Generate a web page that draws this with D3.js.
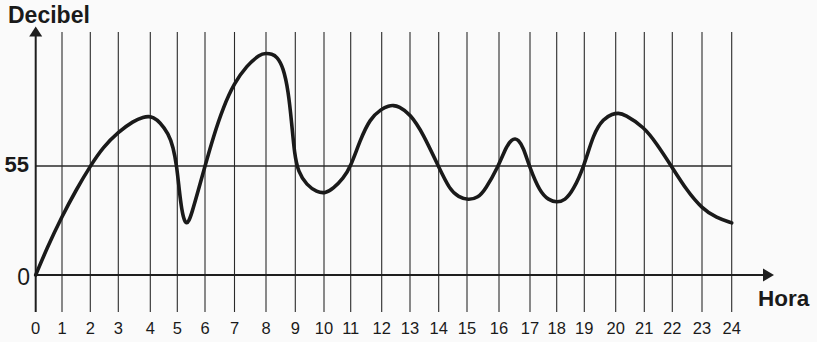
<!DOCTYPE html>
<html><head><meta charset="utf-8">
<script src="https://cdn.jsdelivr.net/npm/d3@7"></script>
<style>
html,body{margin:0;padding:0;background:#fafafa;}
svg{display:block;font-family:"Liberation Sans",Arial,sans-serif;}
</style></head>
<body>
<svg id="c" width="817" height="342"></svg>
<script>
const hours = [0,0.42,0.98,1.52,2,2.46,3,3.47,3.8,3.95,4.1,4.36,4.67,4.85,4.98,5.07,5.16,5.26,5.34,5.42,5.52,5.76,6,6.28,6.62,6.99,7.39,7.8,8,8.2,8.37,8.59,8.76,8.88,8.97,9.1,9.4,9.75,10.04,10.35,10.72,11,11.3,11.62,12,12.25,12.41,12.6,13,13.46,13.99,14.4,14.7,15.04,15.35,15.56,15.98,16.25,16.42,16.52,16.62,16.78,16.98,17.37,17.7,18,18.3,18.6,18.99,19.29,19.61,19.9,20.09,20.3,21,21.44,21.98,22.48,23,23.49,24];
const decibels = [0,13.3,29.1,43.5,55,64.6,72.1,77.7,79.8,80,79.6,77.2,71.3,64.6,54.9,42.8,32.7,27,26,27.3,31,42.8,54.9,69.6,84.7,96.8,105.7,111.3,111.9,111.5,110.3,104.8,93.1,76.3,61.2,52,45.3,41.9,41.1,43.6,48.7,54.7,67.9,78.9,83.9,85.4,85.6,85.1,81.4,71.3,54.7,42.8,39.4,37.7,39.1,42.8,54.7,65.4,68.4,68.8,68.2,64.6,54.7,41.9,37.8,36.6,37.6,42.8,54.7,71.3,78.9,81.3,81.7,81.2,74.6,66.3,54.7,42.8,33.5,28.8,26.3];
const xTicks = d3.range(0,25);
const yTicks = [0,55];
const xTitle = "Hora";
const yTitle = "Decibel";

const svg = d3.select("#c");
// hand-drawn grid: hour lines are not evenly spaced in the original
const x = d3.scaleLinear().domain(xTicks)
  .range([35.7,62,90.3,118.3,150.3,177.3,205,234.5,266,295.3,324,350.7,381.7,410,438.7,467,499,530,556.7,584.3,615.7,644.3,672.3,702,731.7]);
const y = d3.scaleLinear().domain([0,55]).range([275,166]);
const gridTop = 32, gridBottom = 312;

// vertical grid lines
svg.append("g").selectAll("line").data(xTicks.slice(1)).join("line")
  .attr("x1",d=>x(d)).attr("x2",d=>x(d))
  .attr("y1",gridTop).attr("y2",gridBottom)
  .attr("stroke","#2a2a2a").attr("stroke-width",1.1);

// 55 reference line
svg.append("line").attr("x1",x(0)).attr("x2",x(24))
  .attr("y1",y(55)).attr("y2",y(55))
  .attr("stroke","#2a2a2a").attr("stroke-width",1.6);

// x axis with arrow
svg.append("line").attr("x1",x(0)).attr("x2",765)
  .attr("y1",y(0)).attr("y2",y(0))
  .attr("stroke","#1e1e1e").attr("stroke-width",2);
svg.append("path").attr("d",`M763,${y(0)-6.5}L774,${y(0)}L763,${y(0)+6.5}Z`).attr("fill","#1e1e1e");

// y axis with arrow
svg.append("line").attr("x1",x(0)).attr("x2",x(0))
  .attr("y1",gridBottom).attr("y2",34)
  .attr("stroke","#1e1e1e").attr("stroke-width",2);
svg.append("path").attr("d",`M${x(0)-6.5},36.5L${x(0)},26.5L${x(0)+6.5},36.5Z`).attr("fill","#1e1e1e");

// x tick labels
svg.append("g").selectAll("text").data(xTicks).join("text")
  .attr("x",d=>x(d)).attr("y",334)
  .attr("text-anchor","middle").attr("font-size",16.5).attr("fill","#1a1a1a")
  .text(d=>d);

// y labels
svg.append("text").attr("x",29).attr("y",y(55)+6)
  .attr("text-anchor","end").attr("font-size",22).attr("font-weight","bold").attr("fill","#1a1a1a")
  .text(yTicks[1]);
svg.append("text").attr("x",30).attr("y",y(0)+10)
  .attr("text-anchor","end").attr("font-size",23).attr("fill","#1a1a1a")
  .text(yTicks[0]);

// titles
svg.append("text").attr("x",8).attr("y",23)
  .attr("font-size",23).attr("font-weight","bold").attr("fill","#1a1a1a").text(yTitle);
svg.append("text").attr("x",758).attr("y",305.5)
  .attr("font-size",22.5).attr("font-weight","bold").attr("fill","#1a1a1a").text(xTitle);

// curve
const pts = hours.map((h,i)=>[h,decibels[i]]);
const line = d3.line().x(d=>x(d[0])).y(d=>y(d[1])).curve(d3.curveBasis);
svg.append("path").datum(pts).attr("d",line)
  .attr("fill","none").attr("stroke","#1a1a1a").attr("stroke-width",3.6)
  .attr("stroke-linejoin","round").attr("stroke-linecap","round");
</script>
</body></html>
